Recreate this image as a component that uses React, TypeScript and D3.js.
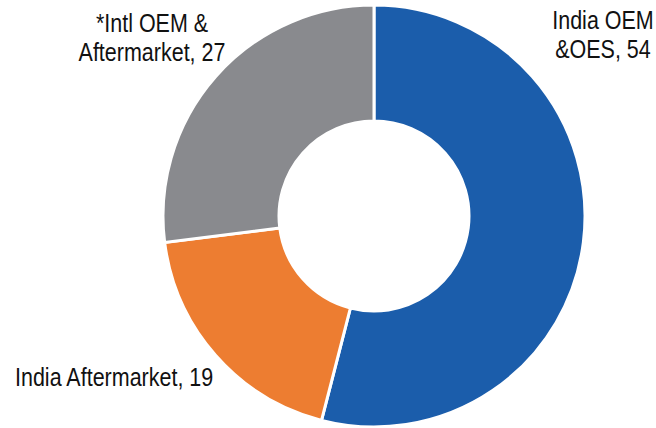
import React from "react";
import * as d3 from "d3";

const categories = ["India OEM &OES", "India Aftermarket", "*Intl OEM & Aftermarket"];
const values = [54, 19, 27];
const colors = ["#1B5DAB", "#ED7D31", "#898A8E"];
const labelLines = [
  ["India OEM", "&OES, 54"],
  ["India Aftermarket, 19"],
  ["*Intl OEM &", "Aftermarket, 27"],
];

const W = 656;
const H = 428;
const cx = 374;
const cy = 216;
const outerR = 211;
const innerR = 95;

// label anchor positions (layout only)
const labelPos = [
  { x: 603, y: 29, anchor: "middle" },
  { x: 15, y: 386, anchor: "start" },
  { x: 152, y: 32, anchor: "middle" },
];

export default function App() {
  const pie = d3
    .pie<number>()
    .sort(null)
    .value((d) => d);
  const arcs = pie(values);
  const arcGen = d3
    .arc<d3.PieArcDatum<number>>()
    .innerRadius(innerR)
    .outerRadius(outerR);

  return (
    <svg
      width={W}
      height={H}
      style={{ position: "absolute", left: 0, top: 0, background: "#fff" }}
    >
      <g transform={`translate(${cx},${cy})`}>
        {arcs.map((a, i) => (
          <path
            key={categories[i]}
            d={arcGen(a) || ""}
            fill={colors[i]}
            stroke="#fff"
            strokeWidth={3}
            strokeLinejoin="miter"
          />
        ))}
      </g>
      {labelLines.map((lines, i) => {
        const p = labelPos[i];
        return (
          <g key={i} transform={`translate(${p.x},${p.y}) scale(0.86,1)`}>
            <text
              textAnchor={p.anchor}
              fontFamily="'Liberation Sans', Arial, sans-serif"
              fontSize={25}
              fill="#111"
            >
              {lines.map((l, j) => (
                <tspan key={j} x={0} dy={j === 0 ? 0 : 29}>
                  {l}
                </tspan>
              ))}
            </text>
          </g>
        );
      })}
    </svg>
  );
}
